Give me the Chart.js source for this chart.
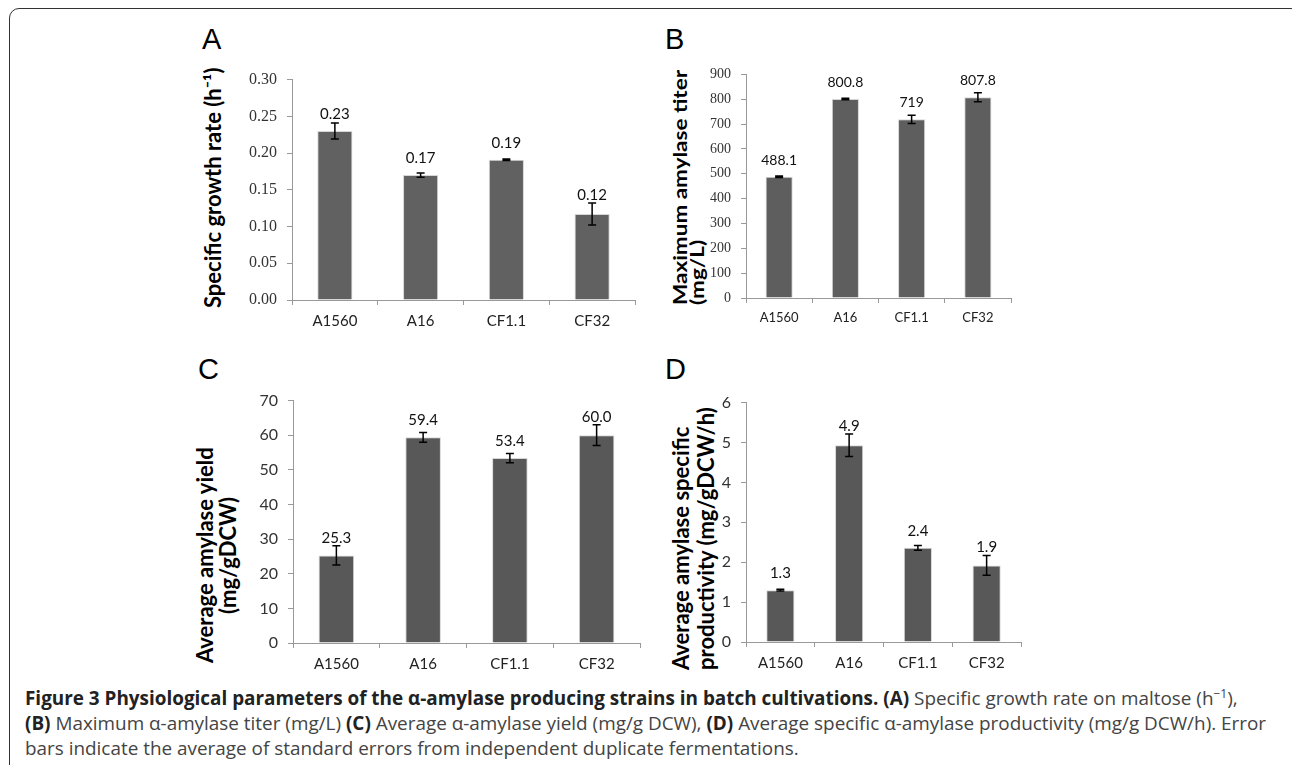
<!DOCTYPE html>
<html>
<head>
<meta charset="utf-8">
<script src="https://cdn.jsdelivr.net/npm/chart.js@4"></script>
<style>
  body { margin: 0; background: #fff; width: 1292px; height: 765px; overflow: hidden; position: relative; font-family: Lato, sans-serif; }
  .frame { position: absolute; left: 9px; top: 8px; width: 1290px; height: 800px; border: 1.5px solid #333; border-radius: 10px; }
  canvas { position: absolute; }
  .letter { position: absolute; font-family: "Liberation Sans", Arial, sans-serif; font-size: 29px; line-height: 30px; color: #000; }
  .ytitle { position: absolute; writing-mode: vertical-rl; transform: rotate(180deg); font-family: Lato, sans-serif; font-weight: bold; font-size: 22px; color: #000; white-space: nowrap; }
  .caption { position: absolute; left: 25px; top: 686px; font-family: "Open Sans", sans-serif; font-size: 18.9px; line-height: 25px; color: #444; white-space: nowrap; }
  .caption b { color: #222; }
</style>
</head>
<body>
<div class="frame"></div>

<div class="letter" style="left:202px;top:24px">A</div>
<div class="letter" style="left:665px;top:24px">B</div>
<div class="letter" style="left:198px;top:354px">C</div>
<div class="letter" style="left:665px;top:354px">D</div>

<div class="ytitle" style="left:200px;top:40px;width:26px;height:296px;line-height:26px;text-align:center">Specific growth rate (h⁻¹)</div>
<div class="ytitle" style="left:669px;top:40px;width:42px;height:265px;line-height:20px;font-size:22.5px;text-align:start;transform:rotate(180deg) scaleX(0.85)">Maximum amylase titer<br>(mg/L)</div>
<div class="ytitle" style="left:193px;top:405px;width:46px;height:300px;line-height:23px;text-align:center">Average amylase yield<br>(mg/gDCW)</div>
<div class="ytitle" style="left:668px;top:370px;width:50px;height:300px;line-height:25px;text-align:start">Average amylase specific<br>productivity (mg/gDCW/h)</div>

<canvas id="chartA" width="415" height="295" style="left:235px;top:60px"></canvas>
<canvas id="chartB" width="325" height="294" style="left:700px;top:56px"></canvas>
<canvas id="chartC" width="420" height="300" style="left:235px;top:381px"></canvas>
<canvas id="chartD" width="335" height="300" style="left:700px;top:383px"></canvas>

<div class="caption">
<b>Figure 3 Physiological parameters of the α-amylase producing strains in batch cultivations. (A)</b> Specific growth rate on maltose (h<sup style="font-size:12px;line-height:0">−1</sup>),<br>
<b>(B)</b> Maximum α-amylase titer (mg/L) <b>(C)</b> Average α-amylase yield (mg/g DCW), <b>(D)</b> Average specific α-amylase productivity (mg/g DCW/h). Error<br>
bars indicate the average of standard errors from independent duplicate fermentations.
</div>

<script>
var strains = ['A1560', 'A16', 'CF1.1', 'CF32'];

// A: specific growth rate (1/h)
var growthRate = [0.23, 0.17, 0.191, 0.117];
var growthRateErr = [0.011, 0.003, 0.001, 0.015];
var growthTicks = [0, 0.30, 0.05];

// B: maximum amylase titer (mg/L)
var titer = [488.1, 800.8, 719, 807.8];
var titerErr = [3, 3, 17, 18];
var titerTicks = [0, 900, 100];

// C: average amylase yield (mg/gDCW)
var yieldVals = [25.3, 59.4, 53.4, 60.0];
var yieldErr = [2.8, 1.4, 1.35, 3];
var yieldTicks = [0, 70, 10];

// D: average specific productivity (mg/gDCW/h)
var productivity = [1.3, 4.93, 2.36, 1.92];
var productivityErr = [0.02, 0.28, 0.06, 0.25];
var productivityTicks = [0, 6, 1];

const errorBars = {
    id: 'errorBars',
    afterDatasetsDraw(chart, args, opts) {
        var ctx = chart.ctx;
        var y = chart.scales.y;
        var vals = chart.data.datasets[0].data;
        var meta = chart.getDatasetMeta(0);
        ctx.save();
        meta.data.forEach(function (bar, i) {
            var top = y.getPixelForValue(vals[i] + opts.errors[i]);
            var bot = y.getPixelForValue(vals[i] - opts.errors[i]);
            // value label above bar
            ctx.font = opts.labelFont;
            ctx.fillStyle = '#111';
            ctx.textAlign = 'center';
            ctx.textBaseline = 'alphabetic';
            ctx.fillText(opts.format(vals[i]), bar.x, Math.min(bar.y - 12, top - 3));
            // error bar
            ctx.strokeStyle = '#000';
            ctx.lineWidth = 1.5;
            ctx.beginPath();
            ctx.moveTo(bar.x, top); ctx.lineTo(bar.x, bot);
            ctx.moveTo(bar.x - 4, top); ctx.lineTo(bar.x + 4, top);
            ctx.moveTo(bar.x - 4, bot); ctx.lineTo(bar.x + 4, bot);
            ctx.stroke();
        });
        ctx.restore();
    }
};

var makeChart = function (id, values, errors, ticks, o) {
    return new Chart(document.getElementById(id), {
        type: 'bar',
        data: {
            labels: strains,
            datasets: [{
                data: values,
                backgroundColor: o.color,
                borderColor: '#d6d6d6',
                borderWidth: 1,
                categoryPercentage: 1,
                barPercentage: 0.41
            }]
        },
        options: {
            responsive: false,
            animation: false,
            layout: { padding: { top: 12, right: o.right, left: 0, bottom: 0 } },
            plugins: {
                legend: { display: false },
                tooltip: { enabled: false },
                errorBars: { errors: errors, format: o.format, labelFont: o.labelFont }
            },
            scales: {
                x: {
                    grid: { drawOnChartArea: false, drawTicks: true, tickLength: 5, color: '#999', offset: true },
                    border: { color: '#999', width: 1 },
                    ticks: { color: '#222', font: { family: 'Lato', size: o.xSize }, padding: 7 },
                    afterFit: function (s) { s.height = o.xHeight; }
                },
                y: {
                    min: ticks[0],
                    max: ticks[1],
                    grid: { drawOnChartArea: false, drawTicks: true, tickLength: 5, color: '#999' },
                    border: { color: '#999', width: 1 },
                    ticks: {
                        stepSize: ticks[2],
                        color: '#333',
                        padding: 10,
                        font: o.yFont,
                        callback: o.yFormat
                    },
                    afterFit: function (s) { s.width = o.yWidth; }
                }
            }
        },
        plugins: [errorBars]
    });
};

var chartA = makeChart('chartA', growthRate, growthRateErr, growthTicks, {
    color: '#616161', right: 15, xHeight: 55, yWidth: 57, xSize: 15,
    yFont: { family: 'Liberation Serif', size: 16 },
    yFormat: function (v) { return Number(v).toFixed(2); },
    format: function (v) { return v.toFixed(2); },
    labelFont: '15px Lato'
});

var chartB = makeChart('chartB', titer, titerErr, titerTicks, {
    color: '#5e5e5e', right: 14, xHeight: 52, yWidth: 46, xSize: 13,
    yFont: { family: 'Liberation Serif', size: 14 },
    yFormat: function (v) { return v; },
    format: function (v) { return String(v); },
    labelFont: '14px Lato'
});

var chartC = makeChart('chartC', yieldVals, yieldErr, yieldTicks, {
    color: '#585858', right: 15, xHeight: 38, yWidth: 58, xSize: 15,
    yFont: { family: 'Lato', size: 16 },
    yFormat: function (v) { return v; },
    format: function (v) { return v.toFixed(1); },
    labelFont: '15px Lato'
});

var chartD = makeChart('chartD', productivity, productivityErr, productivityTicks, {
    color: '#585858', right: 14, xHeight: 41, yWidth: 46, xSize: 15,
    yFont: { family: 'Lato', size: 16 },
    yFormat: function (v) { return v; },
    format: function (v) { return v.toFixed(1); },
    labelFont: '15px Lato'
});
</script>
</body>
</html>
